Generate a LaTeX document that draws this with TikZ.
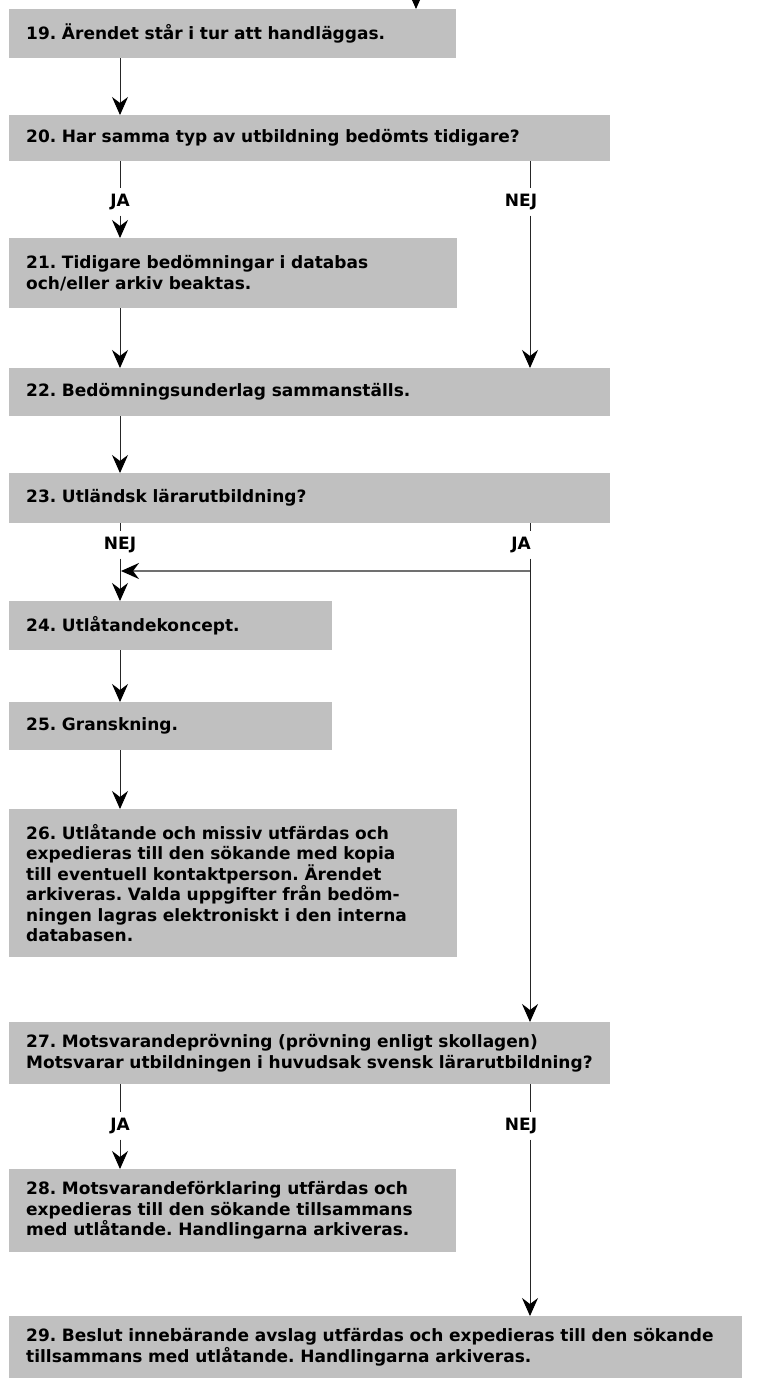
\documentclass[tikz,border=0pt]{standalone}
\usepackage{fontspec}
\setmainfont{DejaVu Sans}
\usepackage{tikz}
\usetikzlibrary{positioning}
\usetikzlibrary{calc}
\usetikzlibrary{arrows.meta}

\definecolor{boxgray}{RGB}{192,192,192}
\definecolor{linkgray}{RGB}{112,112,112}

\tikzset{
  stepbox/.style={fill=boxgray, anchor=north west, inner xsep=17pt, inner ysep=0pt,
    align=left, font=\bfseries\fontsize{17}{20.5}\selectfont\frenchspacing},
  answer/.style={font=\bfseries\fontsize{17}{20}\selectfont, inner sep=0pt, minimum height=27pt},
  plain/.style={line width=0.9pt, black!85},
  flow/.style={plain, -{Stealth[length=18pt,width=16pt,inset=6pt,color=black]}},
  link/.style={line width=2pt, linkgray, -{Stealth[length=18pt,width=16pt,inset=6pt,color=black]}},
}

\begin{document}
\begin{tikzpicture}[x=1pt, y=-1pt]
    \useasboundingbox (0,0) rectangle (758,1378);

    % the two columns of connectors
    \coordinate (lcol) at (120,0);
    \coordinate (rcol) at (530,0);
    \coordinate (entry) at (416,-30);

    \node[stepbox, text width=413, minimum height=49] (b19) at (9,9) {19. Ärendet står i tur att handläggas.};
    \node[stepbox, text width=567, minimum height=46] (b20) at (9,115) {20. Har samma typ av utbildning bedömts tidigare?};
    \node[stepbox, text width=414, minimum height=70] (b21) at (9,238) {21. Tidigare bedömningar i databas\\och/eller arkiv beaktas.};
    \node[stepbox, text width=567, minimum height=48] (b22) at (9,368) {22. Bedömningsunderlag sammanställs.};
    \node[stepbox, text width=567, minimum height=50] (b23) at (9,473) {23. Utländsk lärarutbildning?};
    \node[stepbox, text width=289, minimum height=49] (b24) at (9,601) {24. Utlåtandekoncept.};
    \node[stepbox, text width=289, minimum height=48] (b25) at (9,702) {25. Granskning.};
    \node[stepbox, text width=414, minimum height=148] (b26) at (9,809) {26. Utlåtande och missiv utfärdas och\\expedieras till den sökande med kopia\\till eventuell kontaktperson. Ärendet\\arkiveras. Valda uppgifter från bedöm-\\ningen lagras elektroniskt i den interna\\databasen.};
    \node[stepbox, text width=567, minimum height=62] (b27) at (9,1022) {27. Motsvarandeprövning (prövning enligt skollagen)\\Motsvarar utbildningen i huvudsak svensk lärarutbildning?};
    \node[stepbox, text width=413, minimum height=83] (b28) at (9,1169) {28. Motsvarandeförklaring utfärdas och\\expedieras till den sökande tillsammans\\med utlåtande. Handlingarna arkiveras.};
    \node[stepbox, text width=699, minimum height=62] (b29) at (9,1316) {29. Beslut innebärande avslag utfärdas och expedieras till den sökande\\tillsammans med utlåtande. Handlingarna arkiveras.};

    % answers
    \node[answer] (ja1) at (120,202) {JA};
    \node[answer] (nej1) at (521,202) {NEJ};
    \node[answer] (nej2) at (120,545) {NEJ};
    \node[answer] (ja2) at (521,545) {JA};
    \node[answer] (ja3) at (120,1126) {JA};
    \node[answer] (nej3) at (521,1126) {NEJ};

    \coordinate (split) at (530,571);
    \coordinate (merge) at (121,571);

    \draw[flow] (entry) -- (entry |- b19.north);
    \draw[flow] (b19.south -| lcol) -- (b20.north -| lcol);
    \draw[plain] (b20.south -| lcol) -- (ja1);
    \draw[flow] (ja1) -- (b21.north -| lcol);
    \draw[plain] (b20.south -| rcol) -- (nej1.north -| rcol);
    \draw[flow] (nej1.south -| rcol) -- (b22.north -| rcol);
    \draw[flow] (b21.south -| lcol) -- (b22.north -| lcol);
    \draw[flow] (b22.south -| lcol) -- (b23.north -| lcol);
    \draw[plain] (b23.south -| lcol) -- (nej2);
    \draw[flow] (nej2) -- (b24.north -| lcol);
    \draw[plain] (b23.south -| rcol) -- (ja2.north -| rcol);
    \draw[plain] (ja2.south -| rcol) -- (split);
    \draw[link] (split) -- (merge);
    \draw[flow] (split) -- (b27.north -| rcol);
    \draw[flow] (b24.south -| lcol) -- (b25.north -| lcol);
    \draw[flow] (b25.south -| lcol) -- (b26.north -| lcol);
    \draw[plain] (b27.south -| lcol) -- (ja3);
    \draw[flow] (ja3) -- (b28.north -| lcol);
    \draw[plain] (b27.south -| rcol) -- (nej3.north -| rcol);
    \draw[flow] (nej3.south -| rcol) -- (b29.north -| rcol);
\end{tikzpicture}
\end{document}
